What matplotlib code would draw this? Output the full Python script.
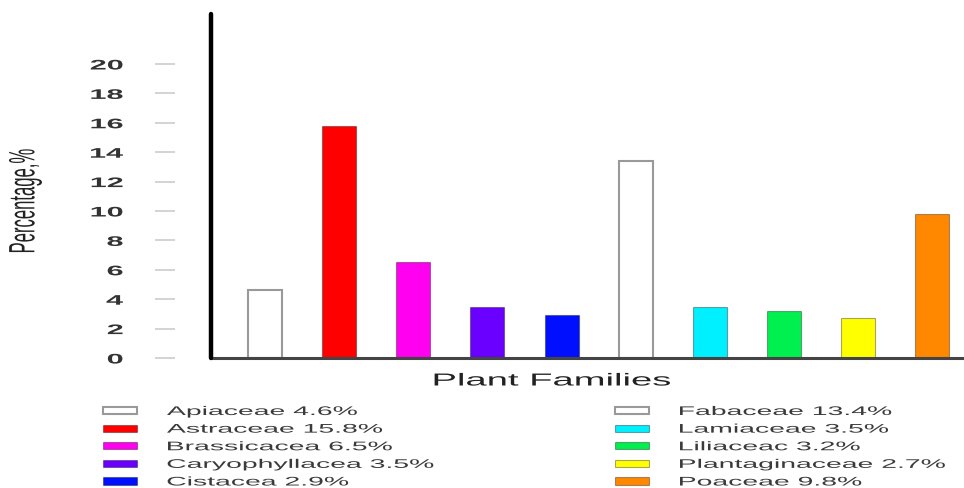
import matplotlib
matplotlib.use("Agg")
import matplotlib.pyplot as plt
from matplotlib.patheffects import AbstractPathEffect
from matplotlib.transforms import Affine2D

plt.rcParams['font.family'] = ['Liberation Sans', 'DejaVu Sans']

families = ['Apiaceae', 'Astraceae', 'Brassicacea', 'Caryophyllacea', 'Cistacea',
            'Fabaceae', 'Lamiaceae', 'Liliaceac', 'Plantaginaceae', 'Poaceae']
percent = [4.6, 15.8, 6.5, 3.5, 2.9, 13.4, 3.5, 3.2, 2.7, 9.8]
colors = ['#ffffff', '#ff0000', '#ff00f0', '#6a00ff', '#0010ff',
          '#ffffff', '#00f0ff', '#00f050', '#ffff00', '#ff8800']
yticks = [0, 2, 4, 6, 8, 10, 12, 14, 16, 18, 20]


class Stretch(AbstractPathEffect):
    """Widen text glyphs horizontally (screen x) around an anchor edge."""

    def __init__(self, sx=2.2, anchor='left'):
        super().__init__()
        self.sx = sx
        self.anchor = anchor

    def draw_path(self, renderer, gc, tpath, affine, rgbFace=None):
        ext = tpath.get_extents(affine)
        x0 = {'left': ext.x0, 'center': 0.5 * (ext.x0 + ext.x1), 'right': ext.x1}[self.anchor]
        widen = Affine2D().translate(-x0, 0).scale(self.sx, 1).translate(x0, 0)
        renderer.draw_path(gc, tpath, affine + widen, rgbFace)


W, H = 964, 489
fig = plt.figure(figsize=(W / 100, H / 100), dpi=100)
ax = fig.add_axes([211 / W, 1 - 359 / H, (W - 211) / W, (359 - 15) / H])

x = list(range(len(families)))
edges = ['#999999' if c == '#ffffff' else (0, 0, 0, 0.35) for c in colors]
widths = [1.5 if c == '#ffffff' else 0.8 for c in colors]
bars = ax.bar(x, percent, width=0.46, color=colors, edgecolor=edges, linewidth=widths, zorder=2)

ax.set_xlim(-0.73, 9.43)
ax.set_ylim(0, 23.4)

# y ticks sit away from the drawn axis line
ax.spines['left'].set_position(('outward', 36 * 0.72))
ax.spines['left'].set_visible(False)
ax.spines['right'].set_visible(False)
ax.spines['top'].set_visible(False)
ax.spines['bottom'].set_color('#444444')
ax.spines['bottom'].set_linewidth(2.2)
ax.set_xticks([])
ax.set_yticks(yticks)
ax.tick_params(axis='y', direction='out', length=20 * 0.72, width=1.2, color='#cccccc',
               pad=32 * 0.72, labelsize=10, labelcolor='#333333')
for t in ax.get_yticklabels():
    t.set_fontweight('bold')
    t.set_path_effects([Stretch(anchor='right')])

# the visible vertical axis line
ax.axvline(-0.73, color='black', lw=3.2, solid_capstyle='round', clip_on=False, zorder=3)

fig.text(552 / W, 1 - 382 / H, 'Plant Families', ha='center', va='center',
         fontsize=12.5, color='#222222', path_effects=[Stretch(anchor='center')])
fig.text(25 / W, 1 - 202 / H, 'Percentage,%', rotation=90, ha='center', va='center',
         fontsize=12, color='#222222', path_effects=[Stretch(anchor='center')])

labels = [f'{n} {v:.1f}%' for n, v in zip(families, percent)]
leg_kw = dict(loc='upper left', bbox_transform=fig.transFigure, frameon=False,
              fontsize=9.0, handlelength=2.72, handleheight=0.52, handletextpad=2.4,
              labelspacing=0.45, borderaxespad=0, borderpad=0, labelcolor='#3a3a3a')
leg1 = fig.legend(bars.patches[:5], labels[:5], bbox_to_anchor=(103 / W, 1 - 407 / H), **leg_kw)
leg2 = fig.legend(bars.patches[5:], labels[5:], bbox_to_anchor=(615 / W, 1 - 407 / H), **leg_kw)
for leg in (leg1, leg2):
    for t in leg.get_texts():
        t.set_path_effects([Stretch(sx=2.27, anchor='left')])

fig.savefig('out.png', dpi=100)
